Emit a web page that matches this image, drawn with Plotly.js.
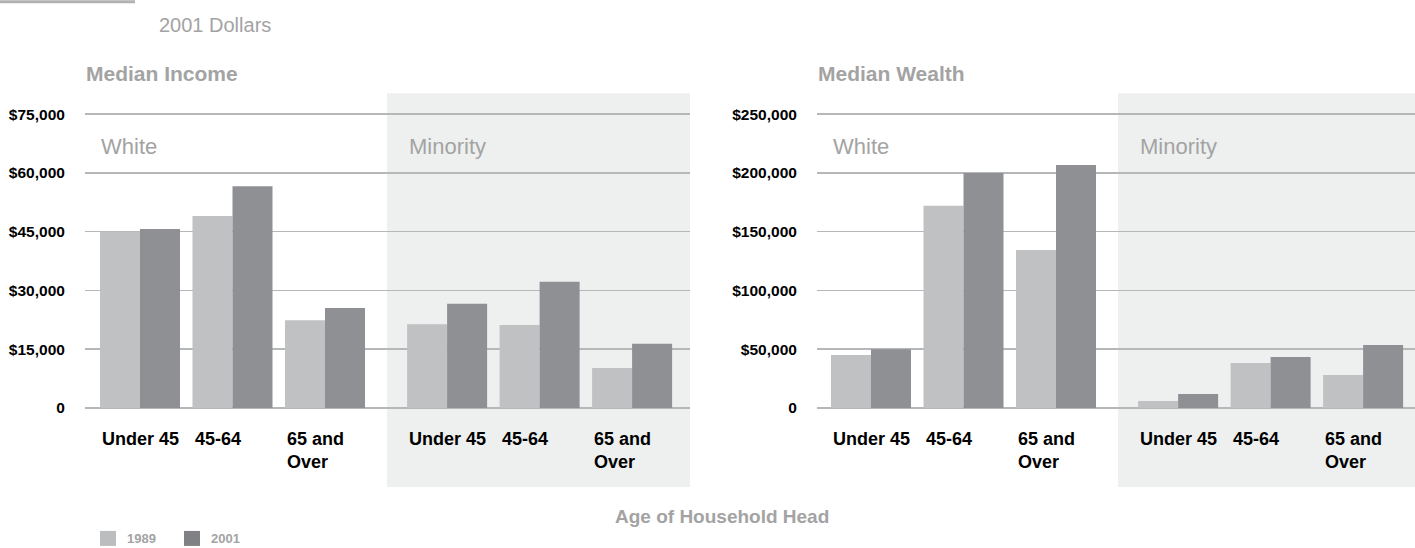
<!DOCTYPE html>
<html><head><meta charset="utf-8">
<script src="https://cdn.plot.ly/plotly-3.0.1.min.js"></script>
<style>html,body{margin:0;padding:0;background:#fff}#chart{width:1415px;height:548px}</style>
</head><body><div id="chart"></div>
<script>
const ageGroups = ['Under 45', '45-64', '65 and<br>Over'];
const raceGroups = ['White', 'Minority'];
const years = ['1989', '2001'];
const income1989 = [45000, 49000, 22400, 21400, 21200, 10200];
const income2001 = [45700, 56600, 25500, 26600, 32200, 16400];
const wealth1989 = [45100, 172000, 134500, 6000, 38300, 28100];
const wealth2001 = [50000, 200000, 206800, 12000, 43400, 53700];
const incomeTickVals = [0, 15000, 30000, 45000, 60000, 75000];
const incomeTickText = ['0', '$15,000', '$30,000', '$45,000', '$60,000', '$75,000'];
const wealthTickVals = [0, 50000, 100000, 150000, 200000, 250000];
const wealthTickText = ['0', '$50,000', '$100,000', '$150,000', '$200,000', '$250,000'];
const panelTitles = ['Median Income', 'Median Wealth'];
const xTitle = 'Age of Household Head';
const subtitle = '2001 Dollars';

const W = 1415, H = 548;
const FONT = '"Liberation Sans", Arial, Helvetica, sans-serif';
const C1989 = '#c0c1c3', C2001 = '#8f9094';
const GREY_TXT = '#a3a3a3';
const GRID = '#b6b7b9';
const SHADE = '#eef0ef';
const RACE_SHIFT = 3.32;
const HALF_GROUP = 0.4324;
const HEADROOM = 1.004;               // small extra range so the top gridline is drawn
const TOP_GRID = 114, PLOT_BOTTOM = 408;
const PLOT_TOP = PLOT_BOTTOM - (PLOT_BOTTOM - TOP_GRID) * HEADROOM;
const px = x => x / W;
const py = y => (PLOT_BOTTOM - y) / (PLOT_BOTTOM - PLOT_TOP);

const slots = [], slotLabels = [];
raceGroups.forEach((r, ri) => ageGroups.forEach((a, ai) => { slots.push(ri * RACE_SHIFT + ai); slotLabels.push(a); }));

function bar(name, y, color, xa, ya) {
  return {type: 'bar', name: name, x: slots, y: y, xaxis: xa, yaxis: ya,
    marker: {color: color, line: {width: 0}}, showlegend: false, hoverinfo: 'skip'};
}
const data = [
  bar(years[0], income1989, C1989, 'x', 'y'),
  bar(years[1], income2001, C2001, 'x', 'y'),
  bar(years[0], wealth1989, C1989, 'x2', 'y2'),
  bar(years[1], wealth2001, C2001, 'x2', 'y2')
];

function yax(vals, text, anchor) {
  return {anchor: anchor, range: [0, vals[vals.length - 1] * HEADROOM], tickmode: 'array', tickvals: vals, ticktext: text,
    showgrid: true, gridcolor: GRID, gridwidth: 1.5,
    zeroline: true, zerolinecolor: GRID, zerolinewidth: 1.5, showline: false,
    ticks: 'outside', ticklen: 16, tickcolor: 'rgba(0,0,0,0)',
    tickfont: {family: FONT, size: 15.5, color: '#000', weight: 700}, fixedrange: true};
}
function xax(domain, range, anchor) {
  return {domain: domain, range: range, anchor: anchor, showticklabels: false, showgrid: false,
    zeroline: false, showline: false, ticks: '', fixedrange: true};
}

const annotations = [];
function txt(t, x, y, size, color, weight, xanchor, yanchor, xref) {
  annotations.push({text: t, x: x, y: y, xref: xref || 'paper', yref: 'paper', showarrow: false,
    xanchor: xanchor, yanchor: yanchor, align: 'left',
    font: {family: FONT, size: size, color: color, weight: weight}});
}
txt(subtitle, px(157), py(25), 20, GREY_TXT, 400, 'left', 'middle');
txt(panelTitles[0], px(84), py(73), 21, GREY_TXT, 700, 'left', 'middle');
txt(panelTitles[1], px(816), py(73), 21, GREY_TXT, 700, 'left', 'middle');
[[99, 407], [831, 1138]].forEach(p => {
  txt(raceGroups[0], px(p[0]), py(146), 22, GREY_TXT, 400, 'left', 'middle');
  txt(raceGroups[1], px(p[1]), py(146), 22, GREY_TXT, 400, 'left', 'middle');
});
['x', 'x2'].forEach(xr => slots.forEach((s, i) => {
  txt(slotLabels[i], s - HALF_GROUP, py(427), 18, '#000', 700, 'left', 'top', xr);
}));
txt(xTitle, px(722), py(517), 19, GREY_TXT, 700, 'center', 'middle');
// legend
const legendX = [[100, 125], [184, 209]];
const legendColors = ['#bcbdbf', '#808184'];
years.forEach((yr, i) => txt(yr, px(legendX[i][1]), py(538.5), 13, GREY_TXT, 700, 'left', 'middle'));

const shapes = [
  {type: 'rect', xref: 'paper', yref: 'paper', x0: px(387), x1: px(690), y0: py(487), y1: py(93), fillcolor: SHADE, line: {width: 0}, layer: 'below'},
  {type: 'rect', xref: 'paper', yref: 'paper', x0: px(1118), x1: 1, y0: py(487), y1: py(93), fillcolor: SHADE, line: {width: 0}, layer: 'below'},
  {type: 'rect', xref: 'paper', yref: 'paper', x0: 0, x1: px(135), y0: py(3), y1: py(0), fillcolor: '#b1b1b1', line: {width: 0}, layer: 'below'}
];
years.forEach((yr, i) => shapes.push({type: 'rect', xref: 'paper', yref: 'paper',
  x0: px(legendX[i][0]), x1: px(legendX[i][0] + 16), y0: py(546), y1: py(531),
  fillcolor: legendColors[i], line: {width: 0}}));

const layout = {
  width: W, height: H,
  margin: {l: 0, r: 0, t: PLOT_TOP, b: H - PLOT_BOTTOM, pad: 0},
  paper_bgcolor: '#fff', plot_bgcolor: 'rgba(0,0,0,0)',
  barmode: 'group', bargap: 0.135, bargroupgap: 0,
  showlegend: false,
  xaxis: xax([px(85), px(690)], [-0.5946, 5.9459], 'y'),
  yaxis: yax(incomeTickVals, incomeTickText, 'x'),
  xaxis2: xax([px(817), 1], [-0.5838, 5.881], 'y2'),
  yaxis2: yax(wealthTickVals, wealthTickText, 'x2'),
  annotations: annotations,
  shapes: shapes,
  font: {family: FONT}
};
Plotly.newPlot('chart', data, layout, {displayModeBar: false, staticPlot: true});
</script>
</body></html>
